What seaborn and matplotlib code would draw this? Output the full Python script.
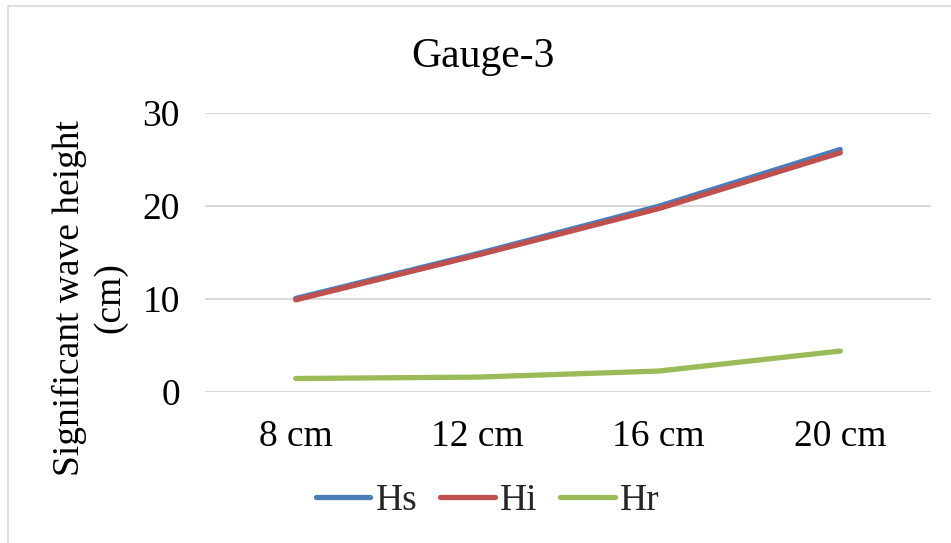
import matplotlib
matplotlib.use("Agg")
import matplotlib.pyplot as plt
import seaborn as sns
import pandas as pd
from matplotlib.patches import Rectangle

# Data
categories = ["8 cm", "12 cm", "16 cm", "20 cm"]
hs = [10.05, 14.85, 19.95, 26.05]
hi = [9.9, 14.7, 19.7, 25.7]
hr = [1.45, 1.6, 2.25, 4.4]
series_names = ["Hs", "Hi", "Hr"]
colors = ["#4A7EBB", "#C0504D", "#9BBB59"]
y_ticks = [0, 10, 20, 30]

df = pd.DataFrame({
    "case": categories * 3,
    "height": hs + hi + hr,
    "series": [s for s in series_names for _ in categories],
})

sns.set_theme(style="white")
plt.rcParams["font.family"] = ["Liberation Serif", "DejaVu Serif"]

W, H = 951, 543
fig = plt.figure(figsize=(W / 100, H / 100), dpi=100)

# Chart-area border
fig.patches.append(Rectangle((8 / W, -0.05), 1.2, 1 - 6 / H + 0.05,
                             transform=fig.transFigure, fill=False,
                             edgecolor="#D9D9D9", linewidth=1.2))

ax = fig.add_axes([205 / W, 1 - 392 / H, (931 - 205) / W, (392 - 112.7) / H])

sns.lineplot(data=df, x="case", y="height", hue="series", palette=colors,
             hue_order=series_names, sort=False, linewidth=3.8, ax=ax,
             legend=False)
for line in ax.lines:
    line.set_solid_capstyle("round")
    line.set_solid_joinstyle("round")

ax.set_xlim(-0.5, 3.5)
ax.set_ylim(0, 30)
ax.set_yticks(y_ticks)
ax.set_xlabel("")
ax.set_ylabel("")
for s in ax.spines.values():
    s.set_visible(False)
ax.grid(axis="y", color="#D9D9D9", linewidth=1.5)
ax.grid(axis="x", visible=False)
ax.set_axisbelow(True)
ax.tick_params(axis="y", length=0, pad=18, labelsize=27, colors="black")
ax.tick_params(axis="x", length=0, pad=20, labelsize=27, colors="black")

fig.text(483 / W, 1 - 66.7 / H, "Gauge-3", ha="center", va="baseline",
         fontsize=30, color="black")

fig.text(90 / W, 1 - 298 / H, "Significant wave height\n(cm)", rotation=90,
         ha="center", va="center", multialignment="center", fontsize=27,
         color="black", linespacing=1.22)

handles = [plt.Line2D([], [], color=c, linewidth=3.8, solid_capstyle="round")
           for c in colors]
fig.legend(handles, series_names, loc="center", ncol=3,
           bbox_to_anchor=(488 / W, 1 - 501 / H), frameon=False, fontsize=27,
           handlelength=1.45, handletextpad=0.15, columnspacing=0.6,
           borderpad=0, borderaxespad=0)

fig.savefig("out.png", dpi=100)
